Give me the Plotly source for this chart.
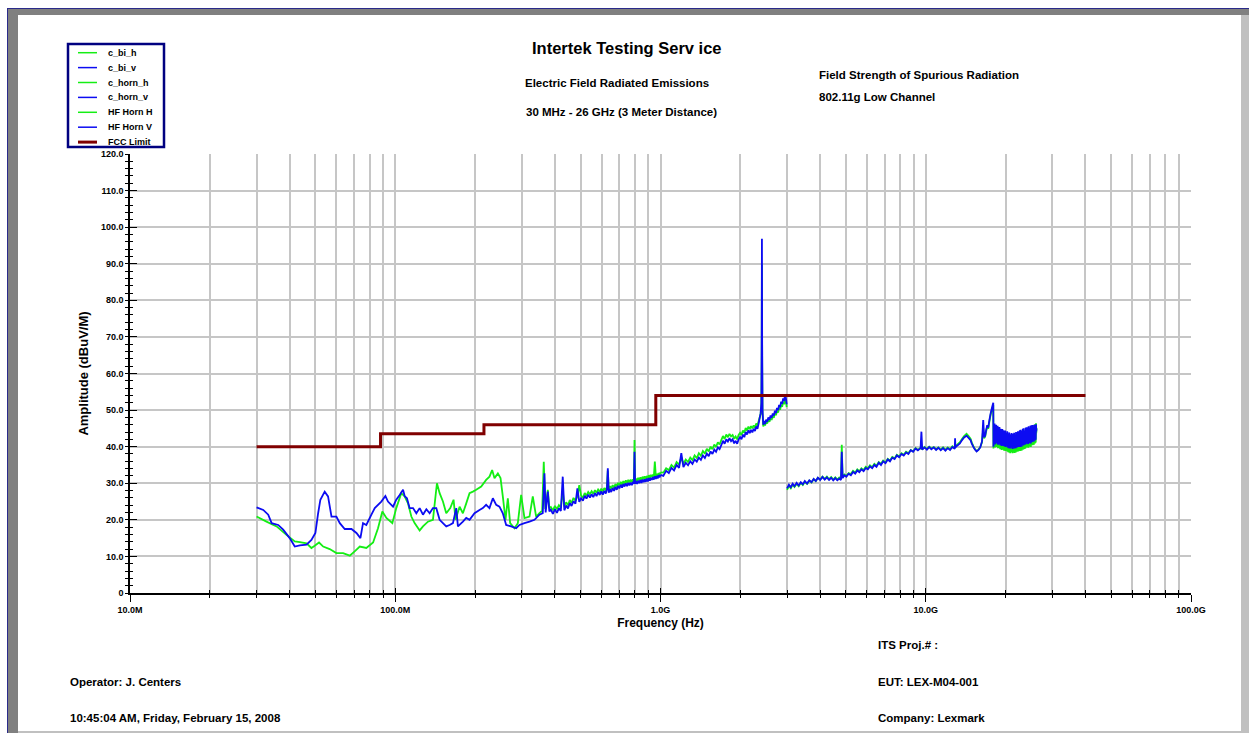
import plotly.graph_objects as go

# ---------------------------------------------------------------------------
# Measured spectra (frequency in MHz, amplitude in dBuV/m)
# ---------------------------------------------------------------------------

# biconical / log antenna, 30 MHz - 1 GHz
c_bi_h_freq_low = [30.0, 32.7, 35.7, 38.9, 41.8, 43.7, 46.3, 48.3, 49.7, 51.6,
                   53.5, 56.6, 60.0, 63.6, 67.4, 70.3, 73.5, 77.8, 82.5, 86.1,
                   89.4, 92.6, 97.5, 100.9, 105.4, 108.5, 111.7, 115.0, 118.3, 123.6,
                   127.2, 132.8, 138.7, 143.6, 147.0, 151.3, 155.7, 161.2, 165.9, 168.8,
                   174.8, 179.9, 185.2, 190.6, 196.2, 201.9, 210.9, 220.1, 226.6, 231.9,
                   236.7, 243.7, 249.4, 254.4, 260.4, 265.7, 271.1, 281.5, 289.8, 298.3,
                   307.0, 320.7, 330.0, 339.7, 349.6, 358.0, 363.0, 368.0, 376.0, 381.0]
c_bi_h_amp_low = [20.9, 19.5, 18.2, 15.9, 14.1, 13.9, 13.6, 12.3, 12.9, 13.8,
                  12.7, 12.0, 10.9, 10.9, 10.2, 11.4, 12.7, 12.3, 13.8, 17.7,
                  22.3, 20.5, 19.1, 23.2, 27.3, 26.4, 24.5, 20.9, 19.1, 17.1,
                  18.2, 19.5, 20.0, 30.0, 27.3, 25.0, 21.8, 23.2, 25.5, 20.0,
                  23.6, 21.8, 24.5, 27.3, 27.7, 28.2, 29.1, 30.9, 31.8, 33.6,
                  31.4, 32.7, 31.4, 26.4, 20.0, 25.9, 19.1, 17.7, 19.1, 26.8,
                  20.5, 20.9, 26.4, 20.9, 21.8, 22.5, 35.9, 23.0, 28.2, 23.2]

c_bi_v_freq_low = [30.0, 31.8, 33.2, 34.2, 36.2, 37.8, 40.0, 41.8, 43.7, 46.3,
                   48.3, 50.0, 51.2, 52.2, 54.2, 55.8, 57.5, 60.0, 61.8, 64.5,
                   68.4, 71.4, 73.9, 75.6, 77.8, 81.3, 83.7, 88.6, 91.8, 93.9,
                   98.1, 100.9, 103.9, 107.0, 108.5, 110.7, 113.3, 116.7, 120.1, 123.6,
                   127.2, 131.0, 134.8, 138.7, 142.8, 147.0, 151.3, 155.7, 160.3, 165.0,
                   169.8, 172.3, 179.9, 185.2, 190.6, 199.0, 207.8, 213.9, 220.1, 226.6,
                   233.3, 240.2, 247.1, 254.4, 261.9, 273.5, 285.7, 294.0, 307.0, 320.7,
                   334.8, 349.6, 359.8, 365.1, 369.0, 376.0, 381.0]
c_bi_v_amp_low = [23.4, 22.7, 21.4, 19.1, 18.6, 17.3, 15.0, 12.7, 13.0, 13.2,
                  14.5, 16.4, 21.8, 25.5, 27.7, 26.4, 20.9, 20.9, 19.1, 17.5,
                  17.5, 16.4, 15.0, 19.1, 18.6, 21.4, 23.2, 25.0, 26.5, 25.0,
                  23.6, 25.5, 26.8, 28.2, 26.5, 25.9, 23.2, 23.2, 21.8, 23.2,
                  21.4, 22.9, 21.8, 23.2, 23.2, 20.0, 19.1, 18.2, 18.6, 19.1,
                  23.2, 18.2, 19.5, 20.5, 20.0, 21.8, 22.7, 23.2, 24.1, 23.2,
                  25.9, 24.1, 23.6, 21.8, 18.6, 18.2, 17.7, 18.6, 19.1, 19.5,
                  20.0, 21.4, 21.8, 32.7, 22.0, 27.7, 22.3]

c_bi_freq_mid = [386, 393, 400, 407, 414, 421, 428, 434, 441, 448,
                 455, 462, 470, 478, 486, 494, 502, 510, 518, 526,
                 534, 542, 550, 558, 566, 574, 582, 590, 598, 606,
                 614, 622, 628, 633, 638, 645, 652, 660, 668, 676,
                 684, 692, 700, 708, 716, 724, 732, 740, 748, 756,
                 764, 772, 780, 788, 794, 798, 802, 808, 816, 824,
                 832, 840, 848, 856, 864, 872, 880, 888, 896, 904,
                 912, 920, 928, 936, 944, 952, 960, 968, 976, 984,
                 992, 1000]
c_bi_h_amp_mid = [23.5, 22.6, 23.8, 22.9, 24.0, 23.3, 28.0, 23.6, 24.8, 24.0,
                  25.4, 24.6, 26.0, 25.2, 26.4, 29.5, 26.6, 26.1, 27.3, 26.6,
                  27.6, 27.0, 27.8, 27.1, 28.1, 27.4, 28.3, 27.7, 28.5, 27.8,
                  28.7, 28.0, 29.0, 33.5, 28.3, 29.2, 28.5, 29.5, 28.8, 29.8,
                  29.1, 30.1, 29.4, 30.4, 29.6, 30.6, 29.9, 30.8, 30.1, 30.9,
                  30.2, 31.0, 30.3, 31.1, 30.6, 41.8, 30.8, 31.3, 30.6, 31.5,
                  30.8, 31.6, 30.9, 31.8, 31.1, 31.9, 31.2, 32.0, 31.3, 32.2,
                  31.5, 32.3, 31.7, 32.4, 31.8, 35.9, 32.0, 32.6, 32.0, 32.8,
                  32.2, 33.0]
c_bi_v_amp_mid = [22.8, 21.6, 22.9, 21.9, 23.2, 22.4, 31.8, 22.6, 23.9, 23.1,
                  24.6, 23.8, 25.1, 24.4, 28.6, 24.9, 25.9, 25.2, 26.6, 25.8,
                  26.9, 26.1, 27.0, 26.2, 27.3, 26.5, 27.6, 26.8, 27.8, 26.9,
                  27.9, 27.2, 28.3, 34.1, 27.4, 28.4, 27.6, 28.7, 27.9, 29.0,
                  28.2, 29.3, 28.6, 29.6, 28.8, 29.8, 29.1, 30.0, 29.2, 30.1,
                  29.4, 30.2, 29.5, 30.4, 29.8, 38.6, 29.9, 30.6, 29.8, 30.7,
                  30.0, 30.9, 30.1, 31.0, 30.3, 31.1, 30.4, 31.3, 30.5, 31.4,
                  30.7, 31.5, 30.9, 31.7, 31.0, 31.9, 31.2, 32.0, 31.3, 32.2,
                  31.6, 32.3]

# horn antenna, 1 GHz - 3 GHz
c_horn_freq = [1000, 1025, 1050, 1075, 1100, 1125, 1150, 1175, 1198, 1220,
               1245, 1270, 1295, 1320, 1345, 1370, 1395, 1420, 1445, 1470,
               1495, 1520, 1545, 1570, 1595, 1620, 1645, 1670, 1695, 1720,
               1745, 1770, 1795, 1820, 1845, 1870, 1895, 1920, 1945, 1970,
               1995, 2020, 2045, 2070, 2095, 2120, 2145, 2170, 2195, 2220,
               2245, 2270, 2295, 2320, 2345, 2365, 2385, 2400, 2407, 2412,
               2417, 2425, 2440, 2460, 2480, 2500, 2525, 2550, 2575, 2600,
               2625, 2650, 2675, 2700, 2725, 2750, 2775, 2800, 2825, 2850,
               2875, 2900, 2925, 2950, 2975, 2990]
c_horn_h_amp = [33.0, 32.9, 34.1, 33.6, 35.0, 34.3, 35.8, 35.1, 37.0, 35.3,
                36.5, 35.8, 37.0, 36.3, 37.6, 36.9, 38.2, 37.5, 38.8, 38.1,
                39.4, 38.7, 40.0, 39.3, 40.6, 39.9, 41.2, 40.6, 41.8, 42.9,
                42.1, 43.3, 42.6, 43.5, 42.8, 43.2, 42.2, 42.8, 42.0, 43.2,
                43.8, 43.2, 44.4, 43.8, 45.1, 44.4, 45.5, 44.8, 45.6, 45.0,
                45.8, 45.2, 46.3, 45.8, 47.0, 48.0, 49.0, 51.0, 65.0, 90.0,
                63.0, 49.0, 45.5, 46.4, 45.8, 46.9, 46.3, 47.4, 46.8, 47.9,
                47.3, 48.5, 47.9, 49.2, 48.6, 49.9, 49.3, 50.7, 50.1, 51.5,
                50.9, 52.3, 51.6, 53.2, 52.2, 50.8]
c_horn_v_amp = [32.3, 32.0, 33.4, 32.8, 34.2, 33.5, 35.0, 34.2, 38.2, 34.4,
                35.6, 34.9, 36.0, 35.3, 36.5, 35.9, 37.0, 36.4, 37.6, 36.9,
                38.1, 37.4, 38.7, 38.0, 39.2, 38.6, 39.8, 39.3, 40.4, 41.6,
                40.8, 42.0, 41.4, 42.3, 41.5, 42.0, 40.9, 41.6, 40.8, 42.0,
                42.6, 42.0, 43.3, 42.6, 44.0, 43.3, 44.5, 43.7, 44.6, 43.9,
                44.9, 44.3, 45.5, 44.9, 46.4, 47.8, 49.1, 52.0, 70.0, 96.8,
                68.0, 50.0, 46.0, 47.0, 46.2, 47.4, 46.8, 48.0, 47.3, 48.5,
                47.9, 49.1, 48.5, 49.8, 49.2, 50.6, 50.0, 51.4, 50.8, 52.3,
                51.7, 53.2, 52.5, 54.3, 53.0, 51.6]

# high-frequency horn, 3 GHz - 18 GHz
hf_freq_a = [3000, 3050, 3100, 3150, 3200, 3260, 3320, 3380, 3440, 3500,
             3570, 3640, 3710, 3780, 3850, 3920, 4000, 4080, 4160, 4240,
             4320, 4400, 4480, 4560, 4640, 4720, 4790, 4824, 4860, 4940,
             5020, 5120, 5220, 5320, 5420, 5520, 5620, 5720, 5830, 5940,
             6050, 6160, 6280, 6400, 6520, 6650, 6780, 6910, 7050, 7190,
             7330, 7480, 7630, 7780, 7940, 8100, 8260, 8430, 8600, 8780,
             8960, 9150, 9340, 9560, 9630, 9700, 9900, 10100, 10300, 10500,
             10720, 10940, 11160, 11390, 11620, 11860, 12100, 12350, 12600, 12860,
             12900, 12940, 13200, 13450, 13700, 13950, 14250, 14500, 14750, 14900,
             15100, 15300, 15550, 15800, 16050, 16300, 16470, 16600, 16750, 16900,
             17050, 17200, 17350, 17560, 17750, 17970]
hf_h_amp_a = [28.2, 29.3, 28.6, 29.6, 29.0, 29.8, 29.2, 30.1, 29.5, 30.4,
              29.8, 30.7, 30.2, 31.1, 30.6, 31.5, 31.0, 31.8, 31.2, 31.8,
              31.1, 31.7, 31.0, 31.6, 31.0, 31.6, 31.2, 40.5, 31.6, 32.4,
              32.0, 32.8, 32.5, 33.4, 32.9, 33.8, 33.3, 34.1, 33.6, 34.5,
              34.1, 34.9, 34.4, 35.3, 34.8, 35.8, 35.3, 36.2, 35.7, 36.7,
              36.2, 37.2, 36.8, 37.8, 37.3, 38.2, 37.8, 38.6, 38.2, 39.1,
              38.7, 39.6, 39.1, 39.7, 39.4, 39.3, 39.9, 39.4, 40.0, 39.5,
              39.9, 39.3, 39.8, 39.2, 39.8, 39.1, 39.8, 39.3, 40.1, 39.6,
              41.0, 40.0, 40.7, 41.2, 42.1, 42.9, 43.5, 42.9, 42.2, 41.2,
              40.2, 39.4, 38.8, 39.2, 39.9, 41.2, 45.0, 42.3, 42.8, 44.2,
              45.5, 44.9, 46.6, 48.7, 50.0, 51.4]
hf_v_amp_a = [28.6, 29.6, 28.9, 29.9, 29.2, 30.1, 29.4, 30.3, 29.7, 30.6,
              29.9, 30.8, 30.3, 31.2, 30.6, 31.5, 30.9, 31.7, 31.0, 31.6,
              30.9, 31.5, 30.8, 31.4, 30.8, 31.3, 30.9, 38.6, 31.4, 32.2,
              31.8, 32.6, 32.2, 33.1, 32.6, 33.5, 33.0, 33.8, 33.3, 34.2,
              33.8, 34.6, 34.1, 35.0, 34.5, 35.6, 35.0, 36.0, 35.5, 36.5,
              36.0, 37.0, 36.6, 37.6, 37.1, 38.0, 37.6, 38.4, 38.0, 39.0,
              38.6, 39.5, 39.0, 39.6, 44.1, 39.2, 39.8, 39.2, 39.9, 39.3,
              39.8, 39.1, 39.7, 39.0, 39.6, 38.9, 39.6, 39.1, 39.9, 39.4,
              42.3, 39.8, 40.4, 40.9, 41.8, 42.5, 43.0, 42.4, 41.8, 40.9,
              40.0, 39.3, 38.7, 39.1, 39.8, 41.5, 47.3, 42.6, 43.0, 44.6,
              45.9, 45.2, 47.0, 49.1, 50.5, 52.0]

# high-frequency horn, 18 GHz - 26 GHz (60 MHz sweep steps)
hf_freq_b = [18000, 18060, 18120, 18180, 18240, 18300, 18360, 18420, 18480, 18540,
             18600, 18660, 18720, 18780, 18840, 18900, 18960, 19020, 19080, 19140,
             19200, 19260, 19320, 19380, 19440, 19500, 19560, 19620, 19680, 19740,
             19800, 19860, 19920, 19980, 20040, 20100, 20160, 20220, 20280, 20340,
             20400, 20460, 20520, 20580, 20640, 20700, 20760, 20820, 20880, 20940,
             21000, 21060, 21120, 21180, 21240, 21300, 21360, 21420, 21480, 21540,
             21600, 21660, 21720, 21780, 21840, 21900, 21960, 22020, 22080, 22140,
             22200, 22260, 22320, 22380, 22440, 22500, 22560, 22620, 22680, 22740,
             22800, 22860, 22920, 22980, 23040, 23100, 23160, 23220, 23280, 23340,
             23400, 23460, 23520, 23580, 23640, 23700, 23760, 23820, 23880, 23940,
             24000, 24060, 24120, 24180, 24240, 24300, 24360, 24420, 24480, 24540,
             24600, 24660, 24720, 24780, 24840, 24900, 24960, 25020, 25080, 25140,
             25200, 25260, 25320, 25380, 25440, 25500, 25560, 25620, 25680, 25740,
             25800, 25860, 25920, 25980, 26040, 26100, 26160]
hf_h_amp_b = [39.5, 45.2, 40.3, 45.9, 39.8, 43.1, 41.9, 45.6, 39.9, 44.4,
              40.6, 45.2, 39.6, 42.8, 44.1, 39.7, 44.8, 41.0, 39.3, 44.2,
              40.2, 43.4, 39.1, 42.1, 44.2, 39.9, 39.2, 43.8, 41.4, 38.9,
              43.2, 40.4, 43.6, 38.8, 41.6, 43.0, 38.9, 40.6, 43.5, 38.6,
              41.4, 42.9, 38.4, 40.0, 43.2, 39.0, 41.2, 38.2, 42.7, 39.8,
              38.5, 42.9, 39.6, 42.1, 38.2, 40.4, 42.8, 38.6, 41.0, 43.0,
              38.3, 40.2, 42.4, 38.9, 38.4, 43.2, 40.1, 41.7, 38.6, 42.9,
              39.4, 43.5, 38.7, 40.8, 43.1, 39.1, 40.6, 43.8, 38.8, 42.2,
              43.9, 39.3, 41.6, 38.9, 43.6, 40.5, 39.3, 44.2, 41.0, 39.2,
              44.3, 40.1, 42.8, 39.4, 43.7, 41.7, 39.5, 44.5, 40.0, 43.1,
              39.8, 44.6, 41.0, 39.9, 44.0, 42.3, 39.7, 45.0, 40.8, 43.4,
              40.0, 44.5, 41.9, 40.2, 45.2, 39.9, 42.8, 44.9, 40.6, 41.7,
              45.5, 40.4, 44.0, 40.7, 44.8, 42.2, 40.5, 45.8, 41.6, 44.3,
              40.9, 46.2, 42.8, 41.1, 46.4, 43.7, 45.2]
hf_v_amp_b = [40.0, 45.8, 41.5, 46.3, 40.6, 44.2, 42.8, 46.0, 40.9, 45.1,
              41.8, 45.7, 40.5, 43.9, 44.8, 40.8, 45.4, 42.2, 40.4, 44.9,
              41.3, 44.1, 40.2, 43.2, 44.8, 41.0, 40.3, 44.5, 42.6, 40.1,
              43.9, 41.7, 44.4, 39.9, 42.8, 43.7, 40.2, 41.9, 44.2, 39.8,
              42.6, 43.6, 39.6, 41.2, 43.9, 40.3, 42.4, 39.5, 43.4, 41.0,
              39.7, 43.7, 40.8, 42.9, 39.4, 41.6, 43.5, 39.9, 42.2, 43.8,
              39.5, 41.4, 43.2, 40.1, 39.6, 44.0, 41.3, 42.5, 39.8, 43.6,
              40.6, 44.2, 39.9, 42.0, 43.9, 40.3, 41.8, 44.5, 39.9, 43.0,
              44.6, 40.5, 42.7, 40.0, 44.3, 41.6, 40.4, 44.9, 42.1, 40.3,
              45.0, 41.2, 43.6, 40.5, 44.4, 42.8, 40.6, 45.2, 41.0, 43.9,
              40.8, 45.3, 42.0, 40.9, 44.7, 43.2, 40.7, 45.6, 41.8, 44.1,
              41.0, 45.1, 42.9, 41.2, 45.8, 40.9, 43.7, 45.4, 41.5, 42.6,
              45.9, 41.3, 44.6, 41.6, 45.2, 43.0, 41.4, 46.0, 42.5, 44.8,
              41.7, 45.7, 43.5, 41.9, 46.1, 44.2, 44.9]

# FCC Part 15 radiated limit (step edges in MHz, limit in dBuV/m)
fcc_freq = [30, 88, 216, 960, 40000]
fcc_limit = [40.0, 43.5, 46.0, 54.0, 54.0]

# axis labels
y_tick_vals = [0, 10, 20, 30, 40, 50, 60, 70, 80, 90, 100, 110, 120]
y_tick_text = ["0", "10.0", "20.0", "30.0", "40.0", "50.0", "60.0",
               "70.0", "80.0", "90.0", "100.0", "110.0", "120.0"]
x_tick_vals = [1e7, 1e8, 1e9, 1e10, 1e11]
x_tick_text = ["10.0M", "100.0M", "1.0G", "10.0G", "100.0G"]

GREEN = "#14ee14"
BLUE = "#0c0cf2"
LIMIT = "#800000"
FONT = "Liberation Sans, Arial, sans-serif"

series = [
    ("c_bi_h", c_bi_h_freq_low + c_bi_freq_mid, c_bi_h_amp_low + c_bi_h_amp_mid, GREEN, 1.8),
    ("c_bi_v", c_bi_v_freq_low + c_bi_freq_mid, c_bi_v_amp_low + c_bi_v_amp_mid, BLUE, 1.8),
    ("c_horn_h", c_horn_freq, c_horn_h_amp, GREEN, 1.8),
    ("c_horn_v", c_horn_freq, c_horn_v_amp, BLUE, 1.8),
    ("HF Horn H", hf_freq_a + hf_freq_b, hf_h_amp_a + hf_h_amp_b, GREEN, 1.8),
    ("HF Horn V", hf_freq_a + hf_freq_b, hf_v_amp_a + hf_v_amp_b, BLUE, 1.8),
]

fig = go.Figure()
for name, f_mhz, amp, color, width in series:
    fig.add_trace(go.Scatter(
        x=[f * 1e6 for f in f_mhz], y=amp, mode="lines", name=name,
        line=dict(color=color, width=width, simplify=False), showlegend=False))

fig.add_trace(go.Scatter(
    x=[f * 1e6 for f in fcc_freq], y=fcc_limit, mode="lines", name="FCC Limit",
    line=dict(color=LIMIT, width=3, shape="hv"), showlegend=False))

# empty trace that carries the overlay axes used for the inward half of each tick
fig.add_trace(go.Scatter(x=[], y=[], xaxis="x2", yaxis="y2",
                         showlegend=False, hoverinfo="skip"))

# ---------------------------------------------------------------------------
# Page geometry
# ---------------------------------------------------------------------------
W, H = 1249, 733
ML, MR, MT, MB = 130, 58, 154, 140
PW, PH = W - ML - MR, H - MT - MB


def px(x):
    return (x - ML) / PW


def py(y):
    return (H - MB - y) / PH


GRID = "#c6c6c6"
minor_x = [k * 10 ** e for e in range(7, 11) for k in range(2, 10)]
tick_font = dict(family=FONT, size=9, color="black", weight="bold")

fig.update_layout(
    width=W, height=H,
    margin=dict(l=ML, r=MR, t=MT, b=MB, pad=0),
    paper_bgcolor="white", plot_bgcolor="white",
    showlegend=False,
    xaxis=dict(
        type="log", range=[7, 11],
        tickmode="array", tickvals=x_tick_vals, ticktext=x_tick_text,
        ticks="outside", ticklen=7, tickwidth=1.2, tickcolor="black",
        showline=True, linecolor="black", linewidth=1.5,
        showgrid=True, gridcolor=GRID, gridwidth=1.6, zeroline=False,
        tickfont=tick_font,
        minor=dict(tickmode="array", tickvals=minor_x, ticks="outside", ticklen=3,
                   tickwidth=1.2, tickcolor="black",
                   showgrid=True, gridcolor=GRID, gridwidth=1.6),
        title=dict(text="Frequency (Hz)", standoff=5,
                   font=dict(family=FONT, size=12, color="black", weight="bold")),
    ),
    yaxis=dict(
        range=[0, 120],
        tickmode="array", tickvals=y_tick_vals, ticktext=y_tick_text,
        ticks="outside", ticklen=3, tickwidth=1.2, tickcolor="black",
        showline=True, linecolor="black", linewidth=1.5,
        showgrid=True, gridcolor=GRID, gridwidth=1.6, zeroline=False,
        tickfont=tick_font,
        minor=dict(dtick=2, ticks="outside", ticklen=3, tickwidth=1.2,
                   tickcolor="black", showgrid=False),
        title=dict(text="Amplitude (dBuV/M)", standoff=9,
                   font=dict(family=FONT, size=13, color="black", weight="bold")),
    ),
    xaxis2=dict(
        type="log", range=[7, 11], overlaying="x", anchor="y2", side="bottom",
        tickmode="array", tickvals=x_tick_vals, ticks="inside", ticklen=5,
        tickwidth=1.2, tickcolor="black", showticklabels=False,
        showgrid=False, zeroline=False, showline=False,
        minor=dict(tickmode="array", tickvals=minor_x, ticks="inside", ticklen=3,
                   tickwidth=1.2, tickcolor="black", showgrid=False),
    ),
    yaxis2=dict(
        range=[0, 120], overlaying="y", anchor="x2", side="left",
        tickmode="array", tickvals=y_tick_vals, ticks="inside", ticklen=7,
        tickwidth=1.2, tickcolor="black", showticklabels=False,
        showgrid=False, zeroline=False, showline=False,
        minor=dict(dtick=2, ticks="inside", ticklen=3, tickwidth=1.2,
                   tickcolor="black", showgrid=False),
    ),
)

# ---------------------------------------------------------------------------
# Window frame around the report page
# ---------------------------------------------------------------------------
shapes = [
    dict(type="rect", x0=px(7), x1=px(18), y0=py(733), y1=py(8),
         fillcolor="#808080", line=dict(width=0)),
    dict(type="rect", x0=px(7), x1=px(1249), y0=py(15), y1=py(8),
         fillcolor="#808080", line=dict(width=0)),
    dict(type="rect", x0=px(1241), x1=px(1249), y0=py(733), y1=py(15),
         fillcolor="#c0c0c0", line=dict(width=0)),
    dict(type="rect", x0=px(18), x1=px(1241), y0=py(733), y1=py(731),
         fillcolor="#c0c0c0", line=dict(width=0)),
    dict(type="line", x0=px(7.5), x1=px(7.5), y0=py(733), y1=py(8),
         line=dict(color="#2a2a8a", width=1)),
    dict(type="line", x0=px(7), x1=px(1249), y0=py(8.5), y1=py(8.5),
         line=dict(color="#2a2a8a", width=1)),
]

# ---------------------------------------------------------------------------
# Legend box
# ---------------------------------------------------------------------------
legend_entries = [(name, color, 1.5) for name, _, _, color, _ in series]
legend_entries.append(("FCC Limit", LIMIT, 3))

shapes.append(dict(type="rect", x0=px(68), x1=px(164), y0=py(147), y1=py(44),
                   fillcolor="white", line=dict(color="#000080", width=2.5)))
annotations = []
for i, (name, color, width) in enumerate(legend_entries):
    yy = 52.7 + i * 14.9
    shapes.append(dict(type="line", x0=px(78), x1=px(97), y0=py(yy), y1=py(yy),
                       line=dict(color=color, width=width)))
    annotations.append(dict(text=name, x=px(106), y=py(yy), xanchor="left",
                            yanchor="middle", showarrow=False,
                            font=dict(family=FONT, size=9, color="black",
                                      weight="bold")))

# ---------------------------------------------------------------------------
# Report header and footer
# ---------------------------------------------------------------------------
report_text = [
    ("Intertek Testing Serv ice", 627, 48, "center", 16.5),
    ("Electric Field Radiated Emissions", 617, 83, "center", 11.5),
    ("30 MHz - 26 GHz (3 Meter Distance)", 621, 112, "center", 11.5),
    ("Field Strength of Spurious Radiation", 817, 75, "left", 11.5),
    ("802.11g Low Channel", 817, 97, "left", 11.5),
    ("ITS Proj.# :", 876, 645, "left", 11.5),
    ("EUT: LEX-M04-001", 876, 682, "left", 11.5),
    ("Company: Lexmark", 876, 718, "left", 11.5),
    ("Operator: J. Centers", 68, 682, "left", 11.5),
    ("10:45:04 AM, Friday, February 15, 2008", 68, 718, "left", 11.5),
]
for text, x, y, anchor, size in report_text:
    annotations.append(dict(text=text, x=px(x), y=py(y), xanchor=anchor,
                            yanchor="middle", showarrow=False,
                            font=dict(family=FONT, size=size, color="black",
                                      weight="bold")))

fig.update_layout(shapes=shapes, annotations=annotations)
for a in fig.layout.annotations:
    a.update(xref="paper", yref="paper")
for s in fig.layout.shapes:
    s.update(xref="paper", yref="paper")

fig.write_html("out.html")
